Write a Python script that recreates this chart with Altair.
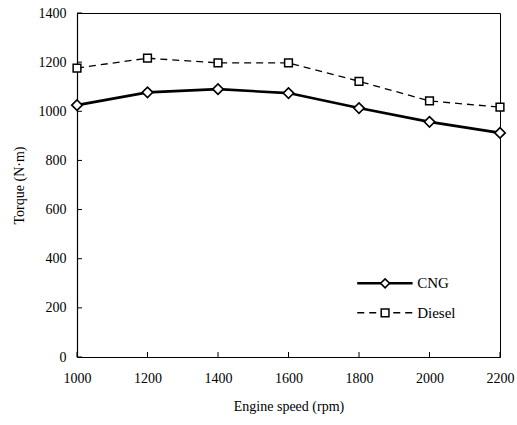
import altair as alt
import pandas as pd

# Engine speed (rpm) and measured torque (N·m)
speed = [1000, 1200, 1400, 1600, 1800, 2000, 2200]
cng = [1025, 1077, 1090, 1074, 1013, 957, 912]
diesel = [1176, 1216, 1197, 1197, 1122, 1042, 1017]

y_ticks = [0, 200, 400, 600, 800, 1000, 1200, 1400]
x_ticks = [1000, 1200, 1400, 1600, 1800, 2000, 2200]

# legend entries (positions in data units)
leg_labels = ["CNG", "Diesel"]
leg_y = [300, 180]
leg_x0, leg_xm, leg_x1, leg_xt = 1795, 1874, 1952, 1965

df = pd.DataFrame({
    "speed": speed * 2,
    "torque": cng + diesel,
    "fuel": ["CNG"] * len(speed) + ["Diesel"] * len(speed),
})
cng_df = df[df.fuel == "CNG"]
dsl_df = df[df.fuel == "Diesel"]

FONT = "Liberation Serif"
xs = alt.Scale(domain=[1000, 2200], nice=False)
ys = alt.Scale(domain=[0, 1400], nice=False)

x_axis = alt.Axis(values=x_ticks, title="Engine speed (rpm)", grid=False,
                  tickSize=0, labelPadding=14, titlePadding=14, format="d",
                  labelFlush=False)
y_axis = alt.Axis(values=y_ticks, title="Torque (N·m)", grid=False,
                  tickSize=0, labelPadding=11, titlePadding=12, format="d",
                  labelFlush=False)

cng_line = alt.Chart(cng_df).mark_line(color="black", strokeWidth=2.6).encode(
    x=alt.X("speed:Q", scale=xs, axis=x_axis),
    y=alt.Y("torque:Q", scale=ys, axis=y_axis),
)
cng_pts = alt.Chart(cng_df).mark_point(shape="diamond", size=110, filled=True, opacity=1,
                                       fill="white", stroke="black", strokeWidth=1.6).encode(
    x=alt.X("speed:Q", scale=xs), y=alt.Y("torque:Q", scale=ys))

dsl_line = alt.Chart(dsl_df).mark_line(color="black", strokeWidth=1.3,
                                       strokeDash=[7, 5]).encode(
    x=alt.X("speed:Q", scale=xs), y=alt.Y("torque:Q", scale=ys))
dsl_pts = alt.Chart(dsl_df).mark_point(shape="square", size=60, filled=True, opacity=1,
                                       fill="white", stroke="black", strokeWidth=1.5).encode(
    x=alt.X("speed:Q", scale=xs), y=alt.Y("torque:Q", scale=ys))

# inward tick marks
yt = alt.Chart(pd.DataFrame({"v": y_ticks, "x": [1000] * len(y_ticks)})).mark_tick(
    orient="horizontal", size=5, thickness=1, color="black", xOffset=2.5, opacity=1).encode(
    x=alt.X("x:Q", scale=xs), y=alt.Y("v:Q", scale=ys))
xt = alt.Chart(pd.DataFrame({"v": x_ticks, "y": [0] * len(x_ticks)})).mark_tick(
    orient="vertical", size=5, thickness=1, color="black", yOffset=-2.5, opacity=1).encode(
    x=alt.X("v:Q", scale=xs), y=alt.Y("y:Q", scale=ys))

# legend
leg = pd.DataFrame({"label": leg_labels, "y": leg_y,
                    "x0": [leg_x0] * 2, "x1": [leg_x1] * 2,
                    "xm": [leg_xm] * 2, "xt": [leg_xt] * 2})
leg_cng = alt.Chart(leg[leg.label == "CNG"]).mark_rule(color="black", strokeWidth=2.6).encode(
    x=alt.X("x0:Q", scale=xs), x2="x1:Q", y=alt.Y("y:Q", scale=ys))
leg_dsl = alt.Chart(leg[leg.label == "Diesel"]).mark_rule(
    color="black", strokeWidth=1.3, strokeDash=[7, 5]).encode(
    x=alt.X("x0:Q", scale=xs), x2="x1:Q", y=alt.Y("y:Q", scale=ys))
leg_cng_pt = alt.Chart(leg[leg.label == "CNG"]).mark_point(
    shape="diamond", size=80, filled=True, opacity=1, fill="white", stroke="black",
    strokeWidth=1.6).encode(
    x=alt.X("xm:Q", scale=xs), y=alt.Y("y:Q", scale=ys))
leg_dsl_pt = alt.Chart(leg[leg.label == "Diesel"]).mark_point(
    shape="square", size=60, filled=True, opacity=1, fill="white", stroke="black",
    strokeWidth=1.5).encode(
    x=alt.X("xm:Q", scale=xs), y=alt.Y("y:Q", scale=ys))
leg_txt = alt.Chart(leg).mark_text(align="left", baseline="middle", font=FONT,
                                   fontSize=15, color="black").encode(
    x=alt.X("xt:Q", scale=xs), y=alt.Y("y:Q", scale=ys), text="label:N")

chart = alt.layer(
    dsl_line, cng_line, xt, yt, dsl_pts, cng_pts,
    leg_cng, leg_dsl, leg_cng_pt, leg_dsl_pt, leg_txt,
).properties(
    width=423, height=344,
    autosize=alt.AutoSizeParams(type="none"),
    padding={"left": 77, "top": 13, "right": 17, "bottom": 68},
    background="white",
).configure_view(
    stroke="black", strokeWidth=1,
).configure_axis(
    domainColor="black", domainWidth=1.2,
    labelFont=FONT, titleFont=FONT, labelFontSize=14, titleFontSize=14,
    labelColor="black", titleColor="black", titleFontWeight="normal",
)

chart.save("out.html", embed_options={"renderer": "svg", "actions": False})
